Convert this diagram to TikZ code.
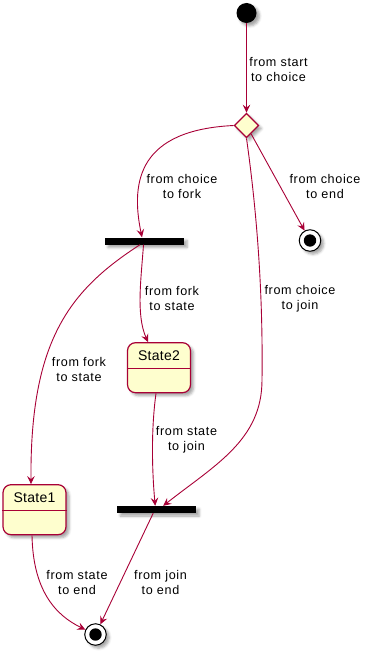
\documentclass[tikz,border=0pt]{standalone}
\usepackage{fontspec}
\usetikzlibrary{arrows.meta,shapes.geometric,shadows.blur}
\newfontfamily\lblfont[LetterSpace=5]{Liberation Sans}
\newfontfamily\ttlfont[LetterSpace=2]{Liberation Sans}
\definecolor{plred}{HTML}{A80036}
\definecolor{plfill}{HTML}{FEFECE}
\tikzset{
  shade/.style={blur shadow={shadow xshift=3pt, shadow yshift=-3pt, shadow blur radius=2.5pt, shadow opacity=35}},
  edge/.style={draw=plred, line width=0.9pt, -{Stealth[length=8pt,width=7.5pt,inset=3pt]}},
  lbl/.style={font=\lblfont\fontsize{12.6}{15}\selectfont, align=center, inner sep=0pt},
  ttl/.style={font=\ttlfont\fontsize{14}{16}\selectfont, inner sep=0pt},
  bar/.style={rectangle, fill=black, draw=none, minimum width=79pt, minimum height=7pt, inner sep=0pt, shade},
  startc/.style={circle, fill=black, minimum size=20pt, inner sep=0pt, shade},
  endc/.style={circle, draw=black, fill=white, line width=1pt, minimum size=21.5pt, inner sep=0pt, shade,
    path picture={\fill[black] (path picture bounding box.center) circle (6.2pt);}},
  choicebox/.style={diamond, draw=plred, fill=plfill, line width=1.2pt, minimum size=24.5pt, inner sep=0pt, shade},
  statebox/.style={rectangle, rounded corners=8pt, draw=plred, fill=plfill, line width=1.2pt,
    minimum width=63pt, minimum height=50pt, inner sep=0pt, shade},
  divider/.style={draw=plred, line width=1.2pt},
}
\begin{document}
\begin{tikzpicture}[x=1pt, y=-1pt]
  \useasboundingbox (0,0) rectangle (368,655);

  % states and pseudo-states
  \node[startc] (start) at (246.5,13) {};
  \node[choicebox] (choice) at (246.5,125.5) {};
  \node[bar] (fork) at (144.5,241) {};
  \node[endc] (endA) at (310,240.5) {};
  \node[statebox] (s2) at (159,367.7) {};
  \node[ttl] (s2t) at ([yshift=-13.5pt]s2.north) {State2};
  \draw[divider] ([yshift=-26.6pt]s2.north west) -- ([yshift=-26.6pt]s2.north east);
  \node[statebox] (s1) at (34.5,509.7) {};
  \node[ttl] (s1t) at ([yshift=-13.5pt]s1.north) {State1};
  \draw[divider] ([yshift=-26.6pt]s1.north west) -- ([yshift=-26.6pt]s1.north east);
  \node[bar] (join) at (156.7,509.5) {};
  \node[endc] (endB) at (95.5,634.5) {};

  % transitions
  \draw[edge] (start) -- (choice);
  \draw[edge] (choice.west) .. controls (140,130) and (130,180) .. ([xshift=-2.5pt]fork.north);
  \draw[edge] (choice) -- (endA);
  \draw[edge] (choice.south) .. controls (258,220) and (263,300) .. (262,380)
              .. controls (262,440) and (215,465) .. ([xshift=6.5pt]join.north);
  \draw[edge] ([xshift=-1pt]fork.south) .. controls (141,280) and (136,315) .. ([xshift=-11pt]s2.north);
  \draw[edge] ([xshift=-4.5pt]fork.south) .. controls (70,290) and (30,340) .. ([xshift=-3.5pt]s1.north);
  \draw[edge] ([xshift=-3pt]s2.south) .. controls (151,430) and (152,470) .. ([xshift=-1.5pt]join.north);
  \draw[edge] ([xshift=-2.5pt]s1.south) .. controls (33,590) and (55,615) .. (endB);
  \draw[edge] ([xshift=-3.5pt]join.south) -- (endB);

  % transition labels
  \node[lbl] (l1) at (278.5,70) {from start\\to choice};
  \node[lbl] (l2) at (182,186) {from choice\\to fork};
  \node[lbl] (l3) at (325,186.5) {from choice\\to end};
  \node[lbl] (l4) at (172,298.5) {from fork\\to state};
  \node[lbl] (l5) at (300,298.5) {from choice\\to join};
  \node[lbl] (l6) at (79,369) {from fork\\to state};
  \node[lbl] (l7) at (186.5,440) {from state\\to join};
  \node[lbl] (l8) at (77,582) {from state\\to end};
  \node[lbl] (l9) at (160.5,582) {from join\\to end};
\end{tikzpicture}
\end{document}
